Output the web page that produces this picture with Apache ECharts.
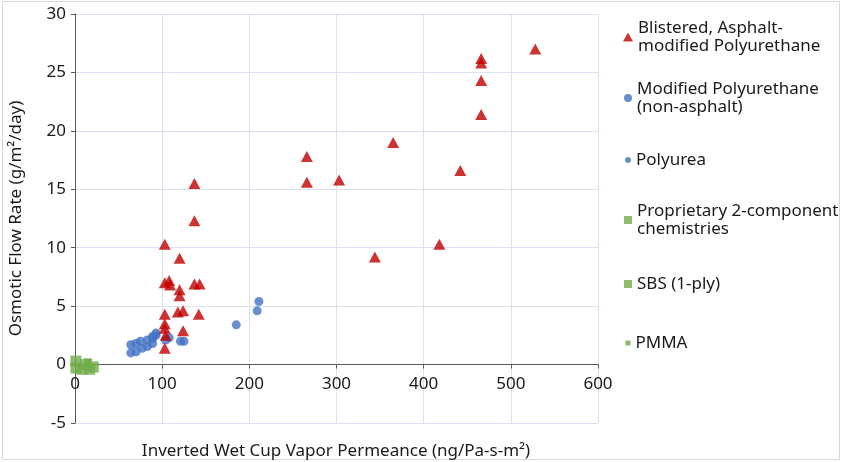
<!DOCTYPE html>
<html>
<head>
<meta charset="utf-8">
<title>Osmotic Flow Rate vs Vapor Permeance</title>
<script src="https://cdn.jsdelivr.net/npm/echarts@6/dist/echarts.min.js"></script>
<style>
  html, body { margin: 0; padding: 0; background: #fff; }
  #chart { width: 843px; height: 462px; }
</style>
</head>
<body>
<div id="chart"></div>
<script>
// series names
const seriesNames = [
  'Blistered, Asphalt-modified Polyurethane',
  'Modified Polyurethane (non-asphalt)',
  'Polyurea',
  'Proprietary 2-component chemistries',
  'SBS (1-ply)',
  'PMMA'
]
// legend text as printed (two lines where needed)
const legendLabels = [
  'Blistered, Asphalt-\nmodified Polyurethane',
  'Modified Polyurethane\n(non-asphalt)',
  'Polyurea',
  'Proprietary 2-component\nchemistries',
  'SBS (1-ply)',
  'PMMA'
]

// [permeance, flow rate]
const blistered = [
  [103, 10.3], [120, 9.1], [137, 15.5], [137, 12.3],
  [103, 7.0], [108, 7.2], [109, 6.8], [120, 6.4], [120, 5.9],
  [137, 6.9], [143, 6.9], [103, 4.3], [118, 4.5], [124, 4.6],
  [142, 4.3], [103, 3.5], [103, 3.1], [104, 2.5], [124, 2.9],
  [103, 1.4],
  [266, 17.8], [266, 15.6], [303, 15.8], [365, 19.0], [344, 9.2],
  [418, 10.3], [442, 16.6], [466, 26.2], [466, 25.8], [466, 24.3],
  [466, 21.4], [528, 27.0]
]
const modifiedPU = [
  [64, 1.7], [64, 1.0], [70, 1.8], [70, 1.1], [75, 2.0], [77, 1.4],
  [83, 2.1], [83, 1.55], [89, 2.4], [89, 1.8], [93, 2.7], [89, 2.25],
  [93, 2.5], [104, 2.1], [108, 2.3]
]
const polyurea = [
  [121, 2.0], [125, 2.0], [185, 3.4], [209, 4.6], [211, 5.4]
]
const proprietary = [
  [1, 0.3], [1, -0.3], [12, 0.0], [21, -0.2]
]
const sbs = [
  [17, -0.4], [8, -0.4]
]
const pmma = [
  [15, 0.2]
]

// axis ranges / ticks
const xTicks = { min: 0, max: 600, interval: 100 }
const yTicks = { min: -5, max: 30, interval: 5 }

const FONT = 'Noto Sans'
const FONT_SIZE = 17
const RED = '#C00000'
const BLUE = '#4472C4'
const GREEN = '#70AD47'
const GRID_LINE = '#DAE2F1'
const AXIS_LINE = '#595959'
const TEXT = '#1a1a1a'

const GRID_TOP = 14
const GRID_BOTTOM = 39
const CHART_H = 462

const chart = echarts.init(document.getElementById('chart'), null, { renderer: 'canvas' })

// pixel distance from bottom of grid up to y = 0 (x axis sits on zero)
const plotH = CHART_H - GRID_TOP - GRID_BOTTOM
const zeroLift = plotH * (0 - yTicks.min) / (yTicks.max - yTicks.min)

// legend icon centre (first text line) per entry
const legendRows = [37, 98, 160, 220, 284, 343]
const legendIcons = [
  { icon: 'triangle', w: 10, h: 9 },
  { icon: 'circle', w: 8, h: 8 },
  { icon: 'circle', w: 6, h: 6 },
  { icon: 'rect', w: 8, h: 8 },
  { icon: 'rect', w: 8, h: 8 },
  { icon: 'rect', w: 5, h: 5 }
]

// one legend per entry so the uneven rows can be placed
const legends = seriesNames.map((name, i) => {
  const twoLine = legendLabels[i].indexOf('\n') >= 0
  const ic = legendIcons[i]
  return {
    data: [{ name: name, icon: ic.icon }],
    orient: 'vertical',
    left: 628 - ic.w / 2,
    top: twoLine ? legendRows[i] - 27 : legendRows[i] - 9,
    padding: 0,
    itemWidth: ic.w,
    itemHeight: ic.h,
    selectedMode: false,
    formatter: () => legendLabels[i],
    textStyle: {
      fontFamily: FONT,
      fontSize: FONT_SIZE,
      color: TEXT,
      lineHeight: 18,
      padding: twoLine ? [18, 0, 0, 0] : 0
    }
  }
})

const option = {
  animation: false,
  backgroundColor: '#fff',
  textStyle: { fontFamily: FONT },
  grid: {
    left: 74,
    right: 245,
    top: GRID_TOP,
    bottom: GRID_BOTTOM,
    containLabel: false
  },
  legend: legends,
  // x axis title sits at the bottom, not next to the zero line
  title: {
    text: 'Inverted Wet Cup Vapor Permeance (ng/Pa-s-m²)',
    left: 336,
    top: 443,
    textAlign: 'center',
    padding: 0,
    textStyle: {
      fontFamily: FONT,
      fontSize: FONT_SIZE,
      fontWeight: 'normal',
      color: TEXT
    }
  },
  graphic: [
    {
      type: 'rect',
      shape: { x: 2.5, y: 1.5, width: 837, height: 458 },
      style: { fill: 'none', stroke: '#D9D9D9', lineWidth: 1 },
      silent: true,
      z: -1
    }
  ],
  xAxis: {
    type: 'value',
    min: xTicks.min,
    max: xTicks.max,
    interval: xTicks.interval,
    offset: -zeroLift,
    axisLine: { show: true, onZero: false, lineStyle: { color: AXIS_LINE } },
    axisTick: { show: true, length: 4, lineStyle: { color: AXIS_LINE } },
    axisLabel: { fontFamily: FONT, fontSize: FONT_SIZE, color: TEXT, margin: 11 },
    splitLine: { show: true, lineStyle: { color: GRID_LINE } }
  },
  yAxis: {
    type: 'value',
    min: yTicks.min,
    max: yTicks.max,
    interval: yTicks.interval,
    name: 'Osmotic Flow Rate (g/m²/day)',
    nameLocation: 'middle',
    nameRotate: 90,
    nameGap: 50,
    nameTextStyle: { fontFamily: FONT, fontSize: FONT_SIZE, color: TEXT },
    axisLine: { show: true, onZero: false, lineStyle: { color: AXIS_LINE } },
    axisTick: { show: true, length: 4, lineStyle: { color: AXIS_LINE } },
    axisLabel: { fontFamily: FONT, fontSize: FONT_SIZE, color: TEXT, margin: 9 },
    splitLine: { show: true, lineStyle: { color: GRID_LINE } }
  },
  series: [
    {
      name: seriesNames[0],
      type: 'scatter',
      symbol: 'triangle',
      symbolSize: [12, 11],
      itemStyle: { color: RED },
      data: blistered,
      z: 4
    },
    {
      name: seriesNames[1],
      type: 'scatter',
      symbol: 'circle',
      symbolSize: 9,
      itemStyle: { color: BLUE },
      data: modifiedPU,
      z: 3
    },
    {
      name: seriesNames[2],
      type: 'scatter',
      symbol: 'circle',
      symbolSize: 9,
      itemStyle: { color: BLUE },
      data: polyurea,
      z: 3
    },
    {
      name: seriesNames[3],
      type: 'scatter',
      symbol: 'rect',
      symbolSize: 11,
      itemStyle: { color: GREEN },
      data: proprietary,
      z: 3
    },
    {
      name: seriesNames[4],
      type: 'scatter',
      symbol: 'rect',
      symbolSize: 11,
      itemStyle: { color: GREEN },
      data: sbs,
      z: 3
    },
    {
      name: seriesNames[5],
      type: 'scatter',
      symbol: 'rect',
      symbolSize: 8,
      itemStyle: { color: GREEN },
      data: pmma,
      z: 3
    }
  ]
}

chart.setOption(option)
</script>
</body>
</html>
